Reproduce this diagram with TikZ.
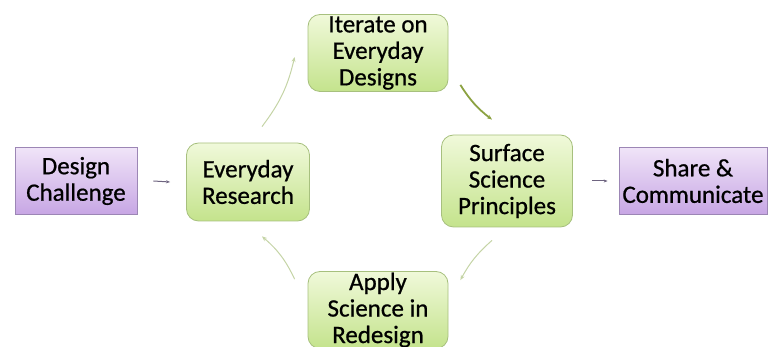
\documentclass[tikz,border=0pt]{standalone}
\usepackage{fontspec}
\setmainfont[FakeBold=0.7]{Carlito}
\usepackage{tikz}
\usetikzlibrary{arrows.meta}

\definecolor{stepgreenT}{HTML}{F0F9DA}
\definecolor{stepgreenB}{HTML}{C4E38C}
\definecolor{stepgreenL}{HTML}{A7C07E}
\definecolor{endpurpT}{HTML}{F0E4F8}
\definecolor{endpurpB}{HTML}{C7A6E4}
\definecolor{endpurpL}{HTML}{9C86B5}
\definecolor{cycarrow}{HTML}{C5D4A6}
\definecolor{cycarrowdark}{HTML}{8CA242}
\definecolor{sidearrow}{HTML}{6E6480}

\tikzset{
  stepbox/.style={draw=stepgreenL, line width=0.8pt, rounded corners=12pt,
    top color=stepgreenT, bottom color=stepgreenB, align=center,
    font=\fontsize{25}{26.5}\selectfont, inner sep=0pt},
  endbox/.style={draw=endpurpL, line width=0.8pt,
    top color=endpurpT, bottom color=endpurpB, align=center,
    font=\fontsize{25}{26.5}\selectfont, inner sep=0pt},
  cyc/.style={-{Stealth[length=5pt,width=4pt]}, cycarrow, line width=1pt},
  side/.style={-{Stealth[length=4pt,width=3pt]}, sidearrow, line width=1pt}
}

\begin{document}
\begin{tikzpicture}[x=1pt, y=-1pt]
\useasboundingbox (0,0) rectangle (780,347);
\begin{scope}
\clip (0,0) rectangle (780,347);

% Outer boxes
\node[endbox, minimum width=122pt, minimum height=67pt] (design) at (76,181) {Design\\Challenge};
\node[endbox, minimum width=148pt, minimum height=67pt] (share) at (693,181) {Share \&\\Communicate};

% Cycle boxes
\node[stepbox, minimum width=123pt, minimum height=78pt] (research) at (248,182) {Everyday\\Research};
\node[stepbox, minimum width=140pt, minimum height=77pt] (iterate) at (378,53) {Iterate on\\Everyday\\Designs};
\node[stepbox, minimum width=131pt, minimum height=92pt] (surface) at (507,181) {Surface\\Science\\Principles};
\node[stepbox, minimum width=140pt, minimum height=77pt] (apply) at (378,310) {Apply\\Science in\\Redesign};

% In and out arrows
\draw[side] (design.east) ++(16,0) -- ([xshift=-16pt]research.west);
\draw[side] (surface.east) ++(19,0) -- ([xshift=-11pt]share.west);

% Cycle arrows
\draw[cyc] ([shift={(14,-16)}]research.north) to[bend right=12] ([shift={(-13,4)}]iterate.west);
\draw[cyc, cycarrowdark, line width=1.8pt] ([shift={(12,-7)}]iterate.south east) to[bend right=10] ([shift={(-15,-15)}]surface.north);
\draw[cyc] ([shift={(-15,13)}]surface.south) to[bend right=10] ([shift={(12,9)}]apply.north east);
\draw[cyc] ([shift={(-13,8)}]apply.north west) to[bend right=12] ([shift={(14,15)}]research.south);
\end{scope}
\end{tikzpicture}
\end{document}
